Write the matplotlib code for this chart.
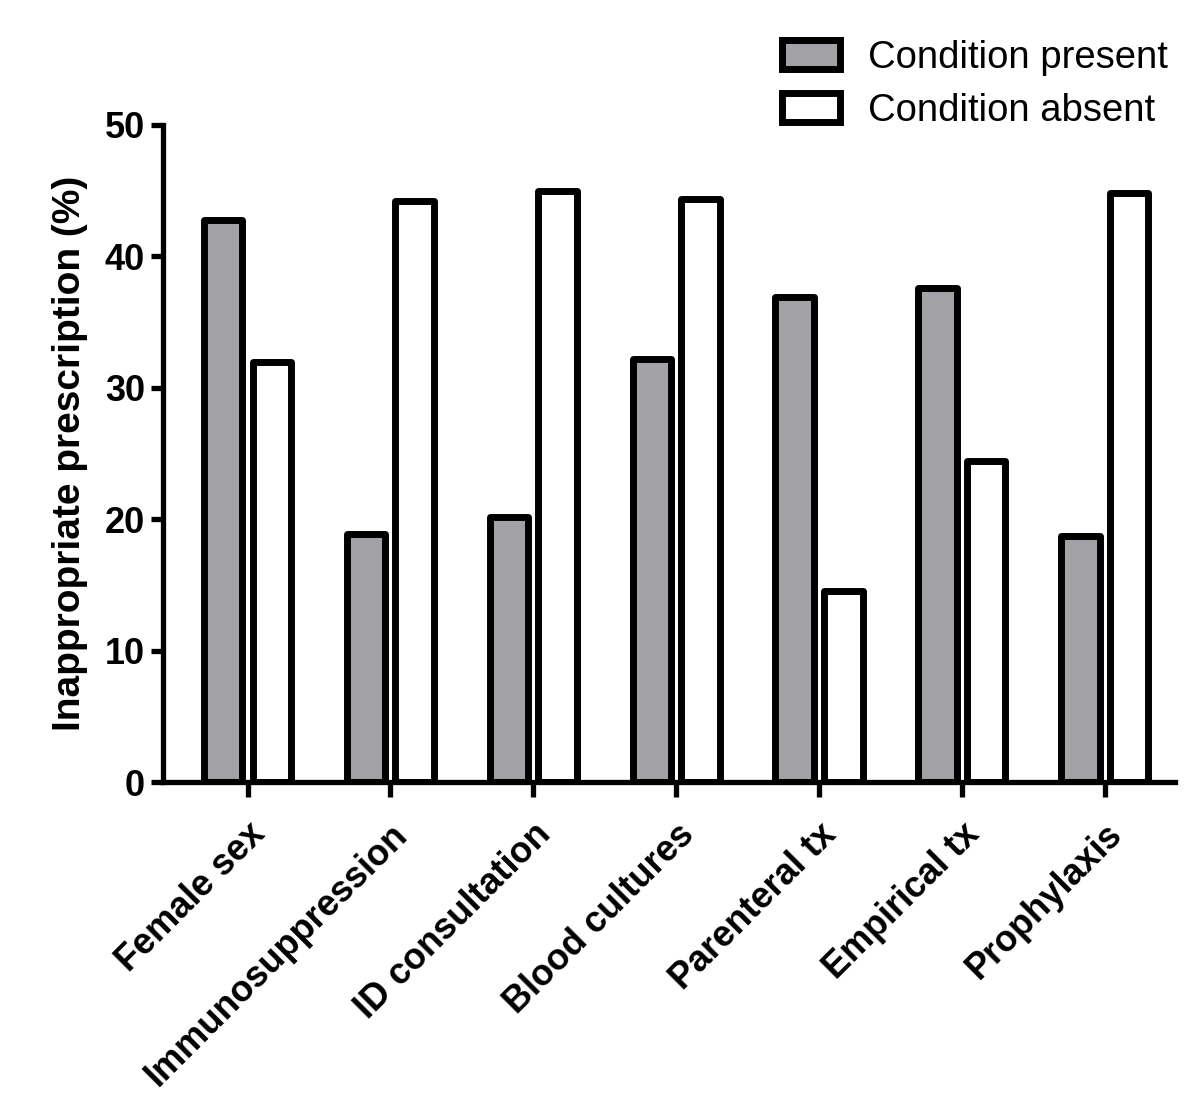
import matplotlib.pyplot as plt
import numpy as np

# donnees
categories = ['Female sex', 'Immunosuppression', 'ID consultation', 'Blood cultures',
              'Parenteral tx', 'Empirical tx', 'Prophylaxis']
present = [42.8, 18.9, 20.2, 32.2, 36.9, 37.6, 18.7]
absent = [32.0, 44.2, 45.0, 44.4, 14.5, 24.4, 44.8]

plt.rcParams['font.family'] = ['Liberation Sans', 'DejaVu Sans']

fig = plt.figure(figsize=(12, 11.01), dpi=100)
ax = fig.add_axes([0.136, 0.2897, 0.843, 0.5968])

x = np.arange(len(categories))
w = 0.27
ax.bar(x - 0.17, present, w, color='#a2a1a6', edgecolor='black', linewidth=5,
       label='Condition present', joinstyle='round')
ax.bar(x + 0.17, absent, w, color='white', edgecolor='black', linewidth=5,
       label='Condition absent', joinstyle='round')

ax.set_ylim(0, 50)
ax.set_xlim(-0.59, 6.49)
ax.set_yticks([0, 10, 20, 30, 40, 50])
ax.set_xticks(x)
ax.set_xticklabels(categories, rotation=45, ha='right', rotation_mode='anchor',
                   fontsize=26, fontweight='bold')
for t in ax.get_yticklabels():
    t.set_fontsize(26)
    t.set_fontweight('bold')

ax.spines['top'].set_visible(False)
ax.spines['right'].set_visible(False)
ax.spines['left'].set_linewidth(3.8)
ax.spines['bottom'].set_linewidth(3.8)
ax.tick_params(axis='y', length=9, width=3.8, pad=4)
ax.tick_params(axis='x', length=11, width=3.8, pad=14)

ax.set_ylabel('Inappropriate prescription (%)', fontsize=28, fontweight='bold', labelpad=12)

fig.legend(loc='upper right', bbox_to_anchor=(1.002, 0.995), frameon=False, fontsize=27.5,
           handlelength=1.5, handleheight=0.8, handletextpad=0.75, labelspacing=0.45)

plt.savefig('out.png', dpi=100)
